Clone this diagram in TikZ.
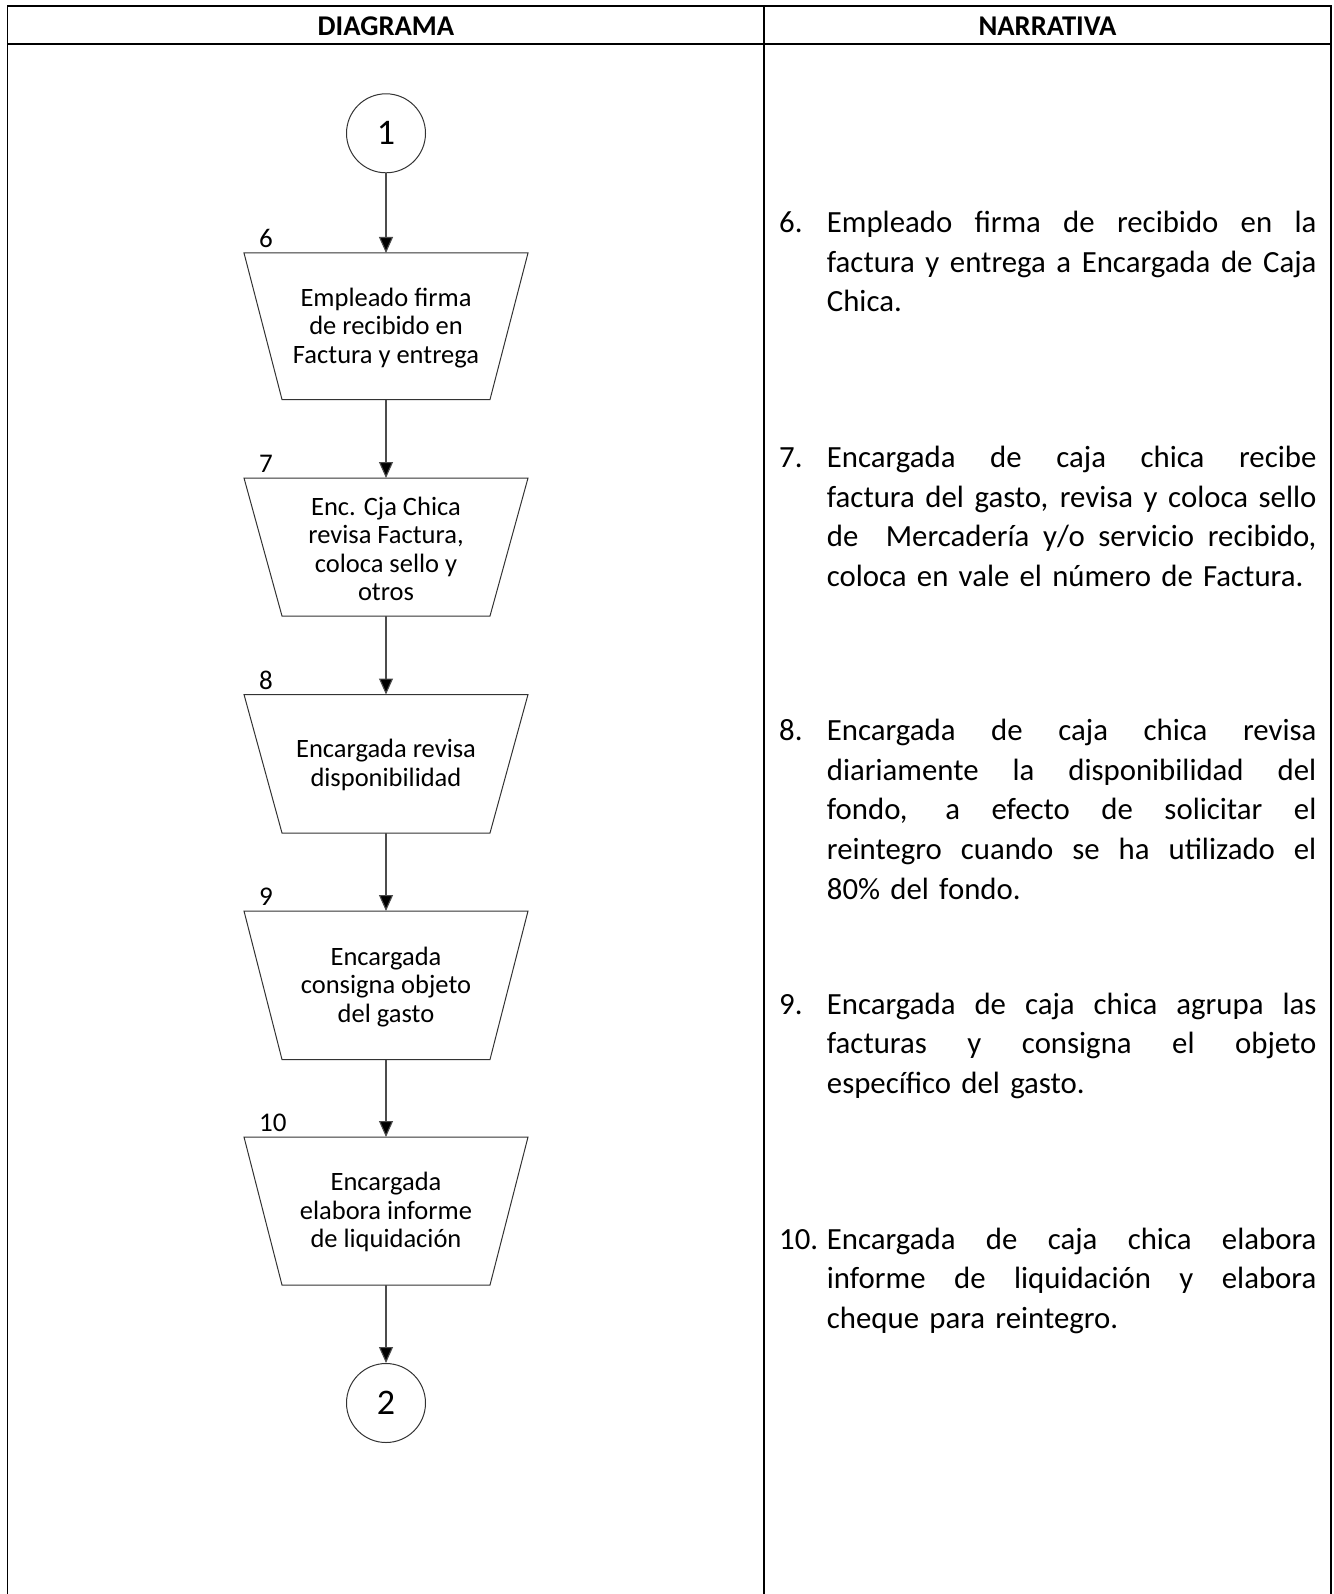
\documentclass[tikz,border=0pt]{standalone}
\usepackage{fontspec}
\setmainfont{Carlito}
\usetikzlibrary{arrows.meta}
\newcommand{\jl}[1]{\leavevmode\hbox to 489.5pt{\spaceskip=\fontdimen2\font plus 1fil\relax #1}}
\begin{document}
\begin{tikzpicture}[x=1pt,y=-1pt,
  tbl/.style={line width=1.7pt},
  box/.style={draw=black!80, line width=1pt},
  flow/.style={draw=black!70, line width=1.1pt, -{Triangle[length=16pt,width=14pt,fill=black]}},
  conn/.style={circle, draw=black!80, line width=1pt, minimum size=79pt, inner sep=0pt, font=\fontsize{36}{40}\selectfont},
  btxt/.style={align=center, inner sep=0pt, font=\fontsize{26.5}{28.5}\selectfont},
  lbl/.style={anchor=base west, inner sep=0pt, font=\fontsize{27}{30}\selectfont},
  hdr/.style={inner sep=0pt, font=\bfseries\fontsize{28.6}{30}\selectfont},
  nnum/.style={anchor=base west, inner sep=0pt, font=\fontsize{30.8}{39.65}\selectfont},
  narr/.style={anchor=base west, inner sep=0pt, text width=489.5pt, align=left, font=\fontsize{30.8}{39.65}\selectfont}]
\useasboundingbox (0,0) rectangle (1333,1594);
% table
\draw[tbl] (7.5,1596) -- (7.5,5.7) -- (1331,5.7) -- (1331,1596);
\draw[tbl] (7.5,43.7) -- (1331,43.7);
\draw[tbl] (764,5.7) -- (764,1596);
\node[hdr] (h1) at (386,25.8) {DIAGRAMA};
\node[hdr] (h2) at (1047.5,25.8) {NARRATIVA};
% connectors (circles)
\node[conn] (c1) at (386,133.3) {1};
\node[conn] (c2) at (386,1403) {2};
% trapezoids
\draw[box] (244,253) -- (528,253) -- (490,399.5) -- (282,399.5) -- cycle;
\coordinate (t1n) at (386,253); \coordinate (t1s) at (386,399.5);
\node[btxt] (t1) at (386,328) {Empleado firma\\de recibido en\\Factura y entrega};
\node[lbl] (l1) at (259,248) {6};
\draw[box] (244,478) -- (528,478) -- (490,616) -- (282,616) -- cycle;
\coordinate (t2n) at (386,478); \coordinate (t2s) at (386,616);
\node[btxt] (t2) at (386,549) {Enc. Cja Chica\\revisa Factura,\\coloca sello y\\otros};
\node[lbl] (l2) at (259,472.5) {7};
\draw[box] (244,694.5) -- (528,694.5) -- (490,833) -- (282,833) -- cycle;
\coordinate (t3n) at (386,694.5); \coordinate (t3s) at (386,833);
\node[btxt] (t3) at (386,765) {Encargada revisa\\disponibilidad};
\node[lbl] (l3) at (259,689) {8};
\draw[box] (244,911) -- (528,911) -- (490,1059.5) -- (282,1059.5) -- cycle;
\coordinate (t4n) at (386,911); \coordinate (t4s) at (386,1059.5);
\node[btxt] (t4) at (386,987) {Encargada\\consigna objeto\\del gasto};
\node[lbl] (l4) at (259,905.5) {9};
\draw[box] (244,1137) -- (528,1137) -- (490,1285) -- (282,1285) -- cycle;
\coordinate (t5n) at (386,1137); \coordinate (t5s) at (386,1285);
\node[btxt] (t5) at (386,1212) {Encargada\\elabora informe\\de liquidación};
\node[lbl] (l5) at (259,1131.5) {10};
% arrows
\draw[flow] (c1) -- (t1n);
\draw[flow] (t1s) -- (t2n);
\draw[flow] (t2s) -- (t3n);
\draw[flow] (t3s) -- (t4n);
\draw[flow] (t4s) -- (t5n);
\draw[flow] (t5s) -- (c2);
% narrative
\node[nnum] (n6) at (779,232.5) {6.};
\node[narr] (p6) at (826.7,232.5) {\jl{Empleado firma de recibido en la}\\\jl{factura y entrega a Encargada de Caja}\\Chica.};
\node[nnum] (n7) at (779,467.5) {7.};
\node[narr] (p7) at (826.7,467.5) {\jl{Encargada de caja chica recibe}\\\jl{factura del gasto, revisa y coloca sello}\\\jl{de\ \ Mercadería y/o servicio recibido,}\\coloca en vale el número de Factura.};
\node[nnum] (n8) at (779,740.5) {8.};
\node[narr] (p8) at (826.7,740.5) {\jl{Encargada de caja chica revisa}\\\jl{diariamente la disponibilidad del}\\\jl{fondo, a efecto de solicitar el}\\\jl{reintegro cuando se ha utilizado el}\\80\% del fondo.};
\node[nnum] (n9) at (779,1014) {9.};
\node[narr] (p9) at (826.7,1014) {\jl{Encargada de caja chica agrupa las}\\\jl{facturas y consigna el objeto}\\específico del gasto.};
\node[nnum] (n10) at (779,1249) {10.};
\node[narr] (p10) at (826.7,1249) {\jl{Encargada de caja chica elabora}\\\jl{informe de liquidación y elabora}\\cheque para reintegro.};
\end{tikzpicture}
\end{document}
